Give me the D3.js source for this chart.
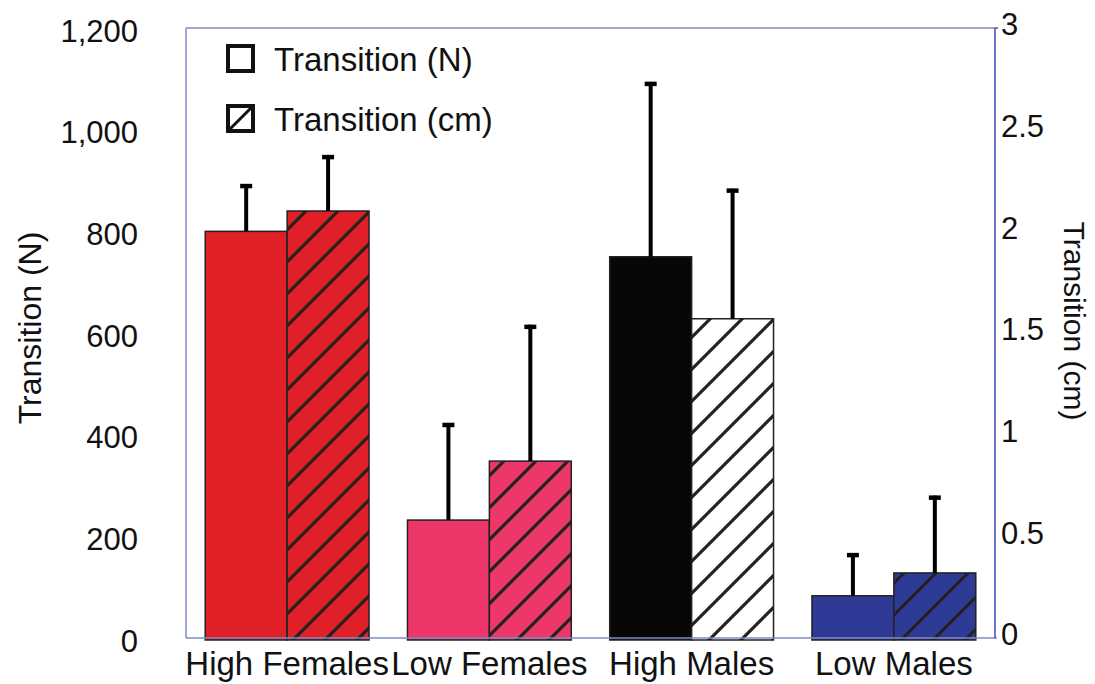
<!DOCTYPE html>
<html>
<head>
<meta charset="utf-8">
<script src="https://cdn.jsdelivr.net/npm/d3@7"></script>
<style>
  html, body { margin: 0; padding: 0; background: #fff; }
  svg { display: block; font-family: "Liberation Sans", Arial, sans-serif; }
</style>
</head>
<body>
<svg id="chart" width="1095" height="684"></svg>
<script>
// ---- data ----
const categories = ["High Females", "Low Females", "High Males", "Low Males"];
const forceN     = [800, 232, 750, 83];
const forceNErr  = [93, 191, 344, 84];
const distCm     = [2.10, 0.87, 1.57, 0.32];
const distCmErr  = [0.275, 0.67, 0.64, 0.38];
const groupColors = ["#e11f27", "#ee3769", "#070707", "#2f3a96"];
const hatchBg     = ["#e11f27", "#ee3769", "#ffffff", "#2f3a96"];
const leftTicks  = [0, 200, 400, 600, 800, 1000, 1200];
const rightTicks = [0, 0.5, 1, 1.5, 2, 2.5, 3];
const legendLabels = ["Transition (N)", "Transition (cm)"];

// ---- layout ----
const svg = d3.select("#chart");
const m = { left: 186, right: 995, top: 28, bottom: 638 };

const x = d3.scaleBand().domain(categories).range([m.left, m.right]).paddingInner(0.19).paddingOuter(0.095);
const xs = d3.scaleBand().domain(["N", "cm"]).range([0, x.bandwidth()]);
const yL = d3.scaleLinear().domain([0, 1200]).range([m.bottom, m.top]);
const yR = d3.scaleLinear().domain([0, 3]).range([m.bottom, m.top]);

// ---- patterns ----
const defs = svg.append("defs");
hatchBg.forEach((bg, i) => {
  const p = defs.append("pattern")
    .attr("id", "hatch" + i)
    .attr("patternUnits", "userSpaceOnUse")
    .attr("x", 5).attr("y", 0)
    .attr("width", 32).attr("height", 32);
  p.append("rect").attr("width", 32).attr("height", 32).attr("fill", bg);
  p.append("path")
    .attr("d", "M-8,8 L8,-8 M0,32 L32,0 M24,40 L40,24")
    .attr("stroke", "#222").attr("stroke-width", 3.2).attr("fill", "none");
});

// ---- frame ----
const frameColor = "#7f8ac6";
svg.append("line").attr("x1", m.left).attr("x2", m.right).attr("y1", m.top).attr("y2", m.top)
  .attr("stroke", frameColor).attr("stroke-width", 1.5);
svg.append("line").attr("x1", m.left).attr("x2", m.left).attr("y1", m.top).attr("y2", m.bottom)
  .attr("stroke", frameColor).attr("stroke-width", 1.5);

// ---- bars ----
const g = svg.append("g");
categories.forEach((c, i) => {
  const x0 = x(c);
  g.append("rect")
    .attr("x", x0 + xs("N")).attr("width", xs.bandwidth())
    .attr("y", yL(forceN[i])).attr("height", yL(0) - yL(forceN[i]) + 2)
    .attr("fill", groupColors[i]).attr("stroke", "#222").attr("stroke-width", 1.5);
  g.append("rect")
    .attr("x", x0 + xs("cm")).attr("width", xs.bandwidth())
    .attr("y", yR(distCm[i])).attr("height", yR(0) - yR(distCm[i]) + 2)
    .attr("fill", "url(#hatch" + i + ")").attr("stroke", "#222").attr("stroke-width", 1.5);
});

// ---- error bars ----
const errColor = "#000";
categories.forEach((c, i) => {
  const cx1 = x(c) + xs("N") + xs.bandwidth() / 2;
  const cx2 = x(c) + xs("cm") + xs.bandwidth() / 2;
  const bars = [
    [cx1, yL(forceN[i]), yL(forceN[i] + forceNErr[i])],
    [cx2, yR(distCm[i]), yR(distCm[i] + distCmErr[i])]
  ];
  bars.forEach(([cx, y0, y1]) => {
    g.append("line").attr("x1", cx).attr("x2", cx).attr("y1", y0).attr("y2", y1)
      .attr("stroke", errColor).attr("stroke-width", 4);
    g.append("line").attr("x1", cx - 6).attr("x2", cx + 6).attr("y1", y1 + 2).attr("y2", y1 + 2)
      .attr("stroke", errColor).attr("stroke-width", 4.5);
  });
});

// bottom & right frame lines on top of bars
svg.append("line").attr("x1", m.left).attr("x2", m.right + 2).attr("y1", m.bottom).attr("y2", m.bottom)
  .attr("stroke", frameColor).attr("stroke-width", 1.5);
svg.append("line").attr("x1", m.right).attr("x2", m.right).attr("y1", m.top).attr("y2", m.bottom)
  .attr("stroke", "#3c48b8").attr("stroke-width", 1.5);
svg.append("line").attr("x1", m.right).attr("x2", m.right + 3).attr("y1", m.top).attr("y2", m.top)
  .attr("stroke", "#3c48b8").attr("stroke-width", 1.5);

// ---- axes ----
const axL = svg.append("g").attr("transform", `translate(${m.left},0)`)
  .call(d3.axisLeft(yL).tickValues(leftTicks).tickFormat(d3.format(",")).tickSize(0).tickPadding(48));
axL.select(".domain").remove();
axL.selectAll("text").attr("font-size", 31).attr("fill", "#111")
  .attr("font-family", "'Liberation Sans', Arial, sans-serif").attr("dy", "0.42em");

const axR = svg.append("g").attr("transform", `translate(${m.right},0)`)
  .call(d3.axisRight(yR).tickValues(rightTicks).tickFormat(d => String(d)).tickSize(0).tickPadding(6));
axR.select(".domain").remove();
axR.selectAll("text").attr("font-size", 31).attr("fill", "#111")
  .attr("font-family", "'Liberation Sans', Arial, sans-serif").attr("dy", "0.22em");

const axB = svg.append("g").attr("transform", `translate(0,${m.bottom})`)
  .call(d3.axisBottom(x).tickSize(0).tickPadding(0));
axB.select(".domain").remove();
axB.selectAll("text").attr("font-size", 33).attr("fill", "#111")
  .attr("font-family", "'Liberation Sans', Arial, sans-serif")
  .attr("dy", null).attr("y", 37);

// ---- axis titles ----
svg.append("text").attr("transform", "translate(41,328) rotate(-90)")
  .attr("text-anchor", "middle").attr("font-size", 32).attr("fill", "#111")
  .text("Transition (N)");
svg.append("text").attr("transform", "translate(1064,321) rotate(90)")
  .attr("text-anchor", "middle").attr("font-size", 30).attr("fill", "#111")
  .text("Transition (cm)");

// ---- legend ----
const leg = svg.append("g");
legendLabels.forEach((lab, i) => {
  const ly = 45 + i * 60;
  leg.append("rect").attr("x", 228).attr("y", ly + 1).attr("width", 25).attr("height", 25)
    .attr("fill", "#fff").attr("stroke", "#111").attr("stroke-width", 4);
  if (i === 1) {
    leg.append("line").attr("x1", 228).attr("y1", ly + 26).attr("x2", 253).attr("y2", ly + 1)
      .attr("stroke", "#111").attr("stroke-width", 3);
  }
  leg.append("text").attr("x", 274).attr("y", ly + 26).attr("font-size", 33).attr("fill", "#111")
    .text(lab);
});
</script>
</body>
</html>
